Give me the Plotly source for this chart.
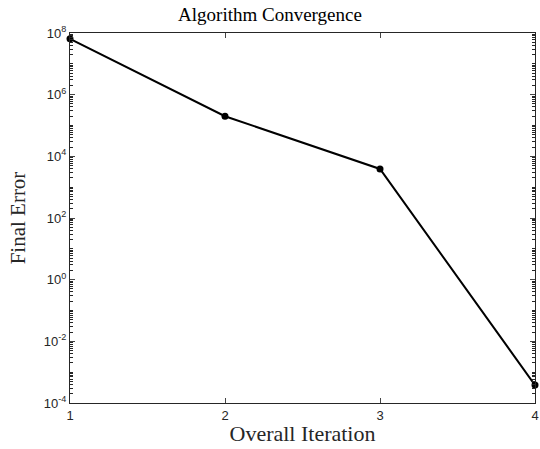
import plotly.graph_objects as go

iterations = [1, 2, 3, 4]
final_error = [6.5e7, 2.0e5, 3.9e3, 3.8e-4]
x_ticks = [1, 2, 3, 4]
y_tick_vals = [1e-4, 1e-2, 1e0, 1e2, 1e4, 1e6, 1e8]
y_tick_text = ["10<sup>-4</sup>", "10<sup>-2</sup>", "10<sup>0</sup>", "10<sup>2</sup>",
               "10<sup>4</sup>", "10<sup>6</sup>", "10<sup>8</sup>"]

fig = go.Figure()
fig.add_trace(go.Scatter(
    x=iterations, y=final_error, mode="lines+markers",
    line=dict(color="black", width=2),
    marker=dict(color="black", size=7),
    showlegend=False, cliponaxis=False,
))

serif = "Liberation Serif, DejaVu Serif, serif"
sans = "Liberation Sans, Arial, sans-serif"

fig.update_layout(
    width=540, height=449,
    margin=dict(l=70, r=5, t=33, b=46),
    paper_bgcolor="white", plot_bgcolor="white",
    title=dict(text="Algorithm Convergence", x=0.5, xanchor="center",
               y=1 - 14/449, yanchor="middle",
               font=dict(family=serif, size=19, color="black")),
    xaxis=dict(
        range=[1, 4], tickvals=x_ticks, ticks="inside", ticklen=5,
        showline=True, linecolor="#262626", linewidth=1, mirror="ticks",
        showgrid=False, zeroline=False, automargin=False,
        tickfont=dict(family=sans, size=13, color="#262626"),
        title=dict(text="Overall Iteration", standoff=4,
                   font=dict(family=serif, size=22, color="#262626")),
    ),
    yaxis=dict(
        type="log", range=[-4, 8], tickvals=y_tick_vals, ticktext=y_tick_text,
        ticks="inside", ticklen=5,
        minor=dict(ticks="inside", ticklen=3, dtick="D1", tickcolor="#262626", showgrid=False),
        showline=True, linecolor="#262626", linewidth=1, mirror="ticks",
        showgrid=False, zeroline=False, automargin=False,
        tickfont=dict(family=sans, size=13, color="#262626"),
        title=dict(text="Final Error", standoff=12,
                   font=dict(family=serif, size=21, color="#262626")),
    ),
)

fig.write_html("out.html", config={"displayModeBar": False},
               post_script="document.body.style.margin='0';document.body.style.overflow='hidden';")
